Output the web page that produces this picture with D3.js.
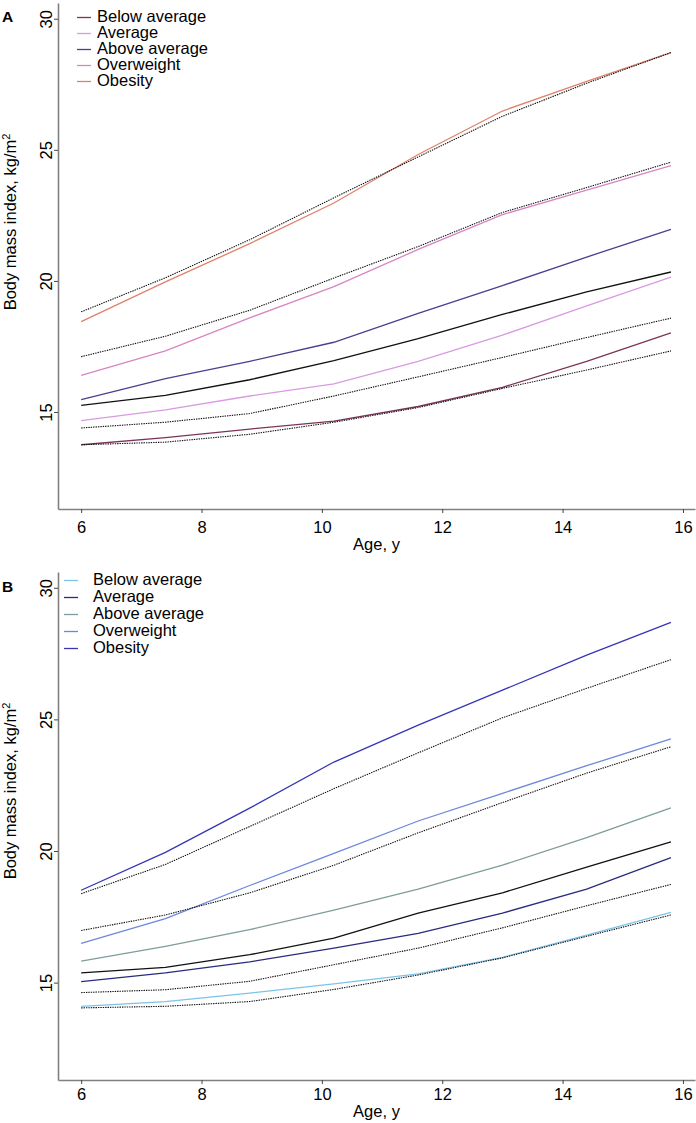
<!DOCTYPE html>
<html><head><meta charset="utf-8">
<script src="https://cdn.jsdelivr.net/npm/d3@7"></script>
<style>
body{margin:0;background:#fff;}
svg{display:block;font-family:"Liberation Sans",Arial,Helvetica,sans-serif;}
</style></head>
<body><svg id="c" width="696" height="1123"></svg>
<script>
const ages = [6, 7.4, 8.8, 10.2, 11.6, 13.0, 14.4, 15.8];
const xTicks = [6, 8, 10, 12, 14, 16];
const yTicks = [15, 20, 25, 30];
const categories = ["Below average", "Average", "Above average", "Overweight", "Obesity"];

// Panel A
const belowA      = [13.75, 14.02, 14.35, 14.65, 15.21, 15.94, 16.93, 18.02];
const averageA    = [14.67, 15.08, 15.61, 16.07, 16.93, 17.93, 19.05, 20.14];
const aboveA      = [15.47, 16.27, 16.93, 17.66, 18.76, 19.82, 20.91, 21.97];
const overweightA = [16.40, 17.33, 18.59, 19.78, 21.20, 22.53, 23.46, 24.40];
const obesityA    = [18.45, 19.96, 21.42, 22.97, 24.82, 26.48, 27.61, 28.71];
const refMedianA  = [15.25, 15.63, 16.23, 16.96, 17.80, 18.72, 19.58, 20.34];
const refLowA     = [13.75, 13.85, 14.15, 14.61, 15.17, 15.90, 16.60, 17.33];
const refMidA     = [14.39, 14.61, 14.94, 15.61, 16.34, 17.08, 17.84, 18.58];
const refHighA    = [17.11, 17.89, 18.88, 20.11, 21.31, 22.61, 23.56, 24.53];
const refTopA     = [18.82, 20.12, 21.57, 23.17, 24.73, 26.28, 27.54, 28.71];
const colorsA = ["#7d3358", "#d99ae2", "#4a3f8f", "#d885c2", "#e0806a"];

// Panel B
const belowB      = [14.10, 14.28, 14.60, 14.95, 15.33, 15.96, 16.80, 17.67];
const averageB    = [15.04, 15.37, 15.79, 16.31, 16.87, 17.64, 18.55, 19.75];
const aboveB      = [15.82, 16.38, 17.01, 17.75, 18.55, 19.46, 20.51, 21.64];
const overweightB = [16.49, 17.43, 18.69, 19.91, 21.14, 22.19, 23.24, 24.26];
const obesityB    = [18.51, 19.95, 21.63, 23.38, 24.78, 26.11, 27.44, 28.69];
const refMedianB  = [15.37, 15.58, 16.06, 16.69, 17.64, 18.41, 19.39, 20.35];
const refLowB     = [14.04, 14.10, 14.28, 14.74, 15.29, 15.94, 16.76, 17.57];
const refMidB     = [14.62, 14.73, 15.05, 15.68, 16.31, 17.08, 17.92, 18.73];
const refHighB    = [16.98, 17.57, 18.41, 19.46, 20.69, 21.84, 22.96, 23.96];
const refTopB     = [18.38, 19.49, 20.93, 22.37, 23.73, 25.06, 26.18, 27.27];
const colorsB = ["#7cc3e8", "#2a2a80", "#7f9c9c", "#6f86dd", "#3535b5"];

const svg = d3.select("#c");
const font = 16.5;

const panels = [
  {label:"A", top:3, bottom:509, series:[belowA, averageA, aboveA, overweightA, obesityA],
   dotted:[refLowA, refMidA, refHighA, refTopA], median:refMedianA, colors:colorsA,
   legend:{lineX0:77, lineX1:91, textX:97, base:22, step:16},
   yTitleY:222, xLabelBase:533, xTitleBase:550, panelY:22},
  {label:"B", top:572, bottom:1080, series:[belowB, averageB, aboveB, overweightB, obesityB],
   dotted:[refLowB, refMidB, refHighB, refTopB], median:refMedianB, colors:colorsB,
   legend:{lineX0:64, lineX1:78, textX:93, base:585, step:17},
   yTitleY:791, xLabelBase:1100, xTitleBase:1117, panelY:592}
];

const x = d3.scaleLinear().domain([5.615, 16.2]).range([58, 695]);

panels.forEach(p => {
  const y = d3.scaleLinear().domain([11.3, 30.6]).range([p.bottom, p.top]);
  const g = svg.append("g");

  // axes
  const xa = g.append("g").attr("transform", `translate(0,${p.bottom})`)
    .call(d3.axisBottom(x).tickValues(xTicks).tickSize(4).tickSizeOuter(0).tickPadding(0).tickFormat(d3.format("d")));
  xa.select(".domain").attr("stroke", "#808080").attr("stroke-width", 1.6);
  xa.selectAll(".tick line").attr("stroke", "#444").attr("stroke-width", 1);
  xa.selectAll(".tick text").attr("font-size", font).attr("fill", "#000")
    .attr("font-family", "Liberation Sans, Arial, sans-serif")
    .attr("dy", null).attr("y", p.xLabelBase - p.bottom);

  const ya = g.append("g").attr("transform", `translate(58,0)`)
    .call(d3.axisLeft(y).tickValues(yTicks).tickSize(4).tickSizeOuter(0).tickFormat(d3.format("d")));
  ya.select(".domain").attr("stroke", "#808080").attr("stroke-width", 1.6);
  ya.selectAll(".tick line").attr("stroke", "#444").attr("stroke-width", 1);
  ya.selectAll(".tick text").attr("font-size", font).attr("fill", "#000")
    .attr("font-family", "Liberation Sans, Arial, sans-serif")
    .attr("x", null).attr("dy", null).attr("text-anchor", "middle")
    .attr("transform", "translate(-6,0) rotate(-90)").attr("y", 0);

  // lines
  const line = d3.line().x((d, i) => x(ages[i])).y(d => y(d));
  p.series.forEach((s, i) => {
    g.append("path").datum(s).attr("d", line).attr("fill", "none")
      .attr("stroke", p.colors[i]).attr("stroke-width", 1.3);
  });
  g.append("path").datum(p.median).attr("d", line).attr("fill", "none")
    .attr("stroke", "#111").attr("stroke-width", 1.3);
  p.dotted.forEach(s => {
    g.append("path").datum(s).attr("d", line).attr("fill", "none")
      .attr("stroke", "#111").attr("stroke-width", 1.1).attr("stroke-dasharray", "1.4,1");
  });

  // legend
  categories.forEach((c, i) => {
    const by = p.legend.base + i * p.legend.step;
    g.append("line").attr("x1", p.legend.lineX0).attr("x2", p.legend.lineX1)
      .attr("y1", by - 4.5).attr("y2", by - 4.5)
      .attr("stroke", p.colors[i]).attr("stroke-width", 1.3);
    g.append("text").attr("x", p.legend.textX).attr("y", by)
      .attr("font-size", font).attr("fill", "#000").text(c);
  });

  // titles
  g.append("text").attr("transform", `translate(16,${p.yTitleY}) rotate(-90)`)
    .attr("text-anchor", "middle").attr("font-size", font).attr("fill", "#000")
    .html('Body mass index, kg/m<tspan dy="-6" font-size="11">2</tspan>');
  g.append("text").attr("x", (58 + 695) / 2).attr("y", p.xTitleBase)
    .attr("text-anchor", "middle").attr("font-size", font).attr("fill", "#000").text("Age, y");
  g.append("text").attr("x", 2).attr("y", p.panelY)
    .attr("font-size", 15.5).attr("font-weight", "bold").attr("fill", "#000").text(p.label);
});
</script>
</body></html>
